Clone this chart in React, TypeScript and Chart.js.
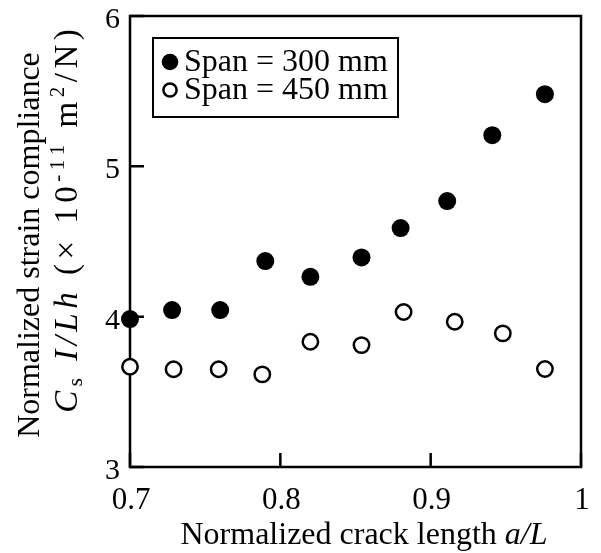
import React, { useEffect, useRef } from 'react';
import { Chart, registerables } from 'chart.js';

Chart.register(...registerables);

// ---- data ----
const seriesLabels = ['Span = 300 mm', 'Span = 450 mm'];
const crackLength300 = [0.7, 0.728, 0.76, 0.79, 0.82, 0.854, 0.88, 0.911, 0.941, 0.976];
const compliance300 = [3.984, 4.044, 4.044, 4.37, 4.265, 4.394, 4.589, 4.769, 5.207, 5.48];
const crackLength450 = [0.7, 0.729, 0.759, 0.788, 0.82, 0.854, 0.882, 0.916, 0.948, 0.976];
const compliance450 = [3.667, 3.65, 3.65, 3.616, 3.833, 3.811, 4.031, 3.966, 3.889, 3.652];
const xTicks = [0.7, 0.8, 0.9, 1];
const yTicks = [3, 4, 5, 6];

const FAMILY = "'Liberation Serif', 'Times New Roman', serif";
const roman = (s: number) => `${s}px ${FAMILY}`;
const italic = (s: number) => `italic ${s}px ${FAMILY}`;

type Seg = { t: string; f: string; dy?: number };

function segWidth(ctx: CanvasRenderingContext2D, s: Seg, spacing: number) {
  ctx.font = s.f;
  let w = 0;
  for (const ch of Array.from(s.t)) w += ctx.measureText(ch).width + spacing;
  return w;
}

function drawRich(
  ctx: CanvasRenderingContext2D,
  segs: Seg[],
  cx: number,
  baseY: number,
  spacing = 0
) {
  let total = 0;
  for (const s of segs) total += spacing ? segWidth(ctx, s, spacing) : (ctx.font = s.f, ctx.measureText(s.t).width);
  if (spacing) total -= spacing;
  let x = cx - total / 2;
  ctx.textAlign = 'left';
  ctx.textBaseline = 'alphabetic';
  for (const s of segs) {
    ctx.font = s.f;
    if (!spacing) {
      ctx.fillText(s.t, x, baseY + (s.dy || 0));
      x += ctx.measureText(s.t).width;
    } else {
      for (const ch of Array.from(s.t)) {
        ctx.fillText(ch, x, baseY + (s.dy || 0));
        x += ctx.measureText(ch).width + spacing;
      }
    }
  }
}

const xTitle: Seg[] = [
  { t: 'Normalized crack length ', f: roman(32) },
  { t: 'a/L', f: italic(32) },
];
const yTitle1: Seg[] = [{ t: 'Normalized strain compliance', f: roman(32) }];
const yTitle2: Seg[] = [
  { t: 'C', f: italic(33) },
  { t: 's', f: roman(21), dy: 5 },
  { t: ' ', f: roman(33) },
  { t: 'I/Lh', f: italic(33) },
  { t: ' (× 10', f: roman(33) },
  { t: '-11', f: roman(21), dy: -13 },
  { t: ' m', f: roman(33) },
  { t: '2', f: roman(21), dy: -13 },
  { t: '/N)', f: roman(33) },
];

const framePlugin = {
  id: 'frameTicks',
  beforeDatasetsDraw(chart: any) {
    const { ctx, chartArea, scales } = chart;
    const { left, right, top, bottom } = chartArea;
    ctx.save();
    ctx.strokeStyle = '#000';
    ctx.lineWidth = 2.5;
    ctx.strokeRect(left, top, right - left, bottom - top);
    ctx.beginPath();
    for (const v of xTicks) {
      const px = scales.x.getPixelForValue(v);
      ctx.moveTo(px, bottom);
      ctx.lineTo(px, bottom - 14);
    }
    for (const v of yTicks) {
      const py = scales.y.getPixelForValue(v);
      ctx.moveTo(left, py);
      ctx.lineTo(left + 14, py);
    }
    ctx.stroke();
    ctx.restore();
  },
};

const legendPlugin = {
  id: 'insideLegend',
  afterDatasetsDraw(chart: any) {
    const { ctx, chartArea } = chart;
    const bx = chartArea.left + 23;
    const by = chartArea.top + 22;
    const bw = 245;
    const bh = 79;
    ctx.save();
    ctx.fillStyle = '#fff';
    ctx.fillRect(bx, by, bw, bh);
    ctx.strokeStyle = '#000';
    ctx.lineWidth = 2;
    ctx.strokeRect(bx, by, bw, bh);
    chart.data.datasets.forEach((ds: any, i: number) => {
      const cy = by + 24 + i * 28;
      const mx = bx + 17;
      ctx.beginPath();
      ctx.arc(mx, cy, i === 0 ? 8.3 : 6.6, 0, Math.PI * 2);
      if (i === 0) {
        ctx.fillStyle = '#000';
        ctx.fill();
      } else {
        ctx.fillStyle = '#fff';
        ctx.fill();
        ctx.lineWidth = 2.5;
        ctx.strokeStyle = '#000';
        ctx.stroke();
      }
      ctx.fillStyle = '#000';
      ctx.font = roman(32);
      ctx.textAlign = 'left';
      ctx.textBaseline = 'middle';
      ctx.fillText(ds.label, bx + 31, cy + 1);
    });
    ctx.restore();
  },
};

const titlesPlugin = {
  id: 'richTitles',
  afterDraw(chart: any) {
    const { ctx } = chart;
    ctx.save();
    ctx.fillStyle = '#000';
    drawRich(ctx, xTitle, 364, 544);
    ctx.save();
    ctx.translate(39, 245);
    ctx.rotate(-Math.PI / 2);
    drawRich(ctx, yTitle1, 0, 0);
    ctx.restore();
    ctx.save();
    ctx.translate(77, 221);
    ctx.rotate(-Math.PI / 2);
    drawRich(ctx, yTitle2, 0, 0, 4.5);
    ctx.restore();
    ctx.restore();
  },
};

export default function App() {
  const ref = useRef<HTMLCanvasElement | null>(null);
  useEffect(() => {
    document.body.style.margin = '0';
    const zeroPad = (s: any) => {
      s.paddingLeft = 0;
      s.paddingRight = 0;
      s.paddingTop = 0;
      s.paddingBottom = 0;
    };
    const chart = new Chart(ref.current as HTMLCanvasElement, {
      type: 'scatter',
      data: {
        datasets: [
          {
            label: seriesLabels[0],
            data: crackLength300.map((x, i) => ({ x, y: compliance300[i] })),
            pointStyle: 'circle',
            pointRadius: 9,
            pointBackgroundColor: '#000',
            pointBorderColor: '#000',
            pointBorderWidth: 0,
            clip: false as any,
          },
          {
            label: seriesLabels[1],
            data: crackLength450.map((x, i) => ({ x, y: compliance450[i] })),
            pointStyle: 'circle',
            pointRadius: 7.7,
            pointBackgroundColor: '#fff',
            pointBorderColor: '#000',
            pointBorderWidth: 2.5,
            clip: false as any,
          },
        ],
      },
      options: {
        animation: false,
        responsive: true,
        maintainAspectRatio: false,
        layout: { padding: { left: 0, right: 20, top: 16, bottom: 0 } },
        plugins: { legend: { display: false }, tooltip: { enabled: false } },
        events: [],
        scales: {
          x: {
            type: 'linear',
            min: 0.7,
            max: 1,
            afterBuildTicks: (s: any) => {
              s.ticks = xTicks.map((v) => ({ value: v }));
            },
            afterFit: (s: any) => {
              s.height = 86;
              zeroPad(s);
            },
            grid: { display: false, drawTicks: false },
            border: { display: false },
            ticks: {
              color: '#000',
              font: { family: FAMILY, size: 31 },
              padding: 15,
              labelOffset: 1,
              maxRotation: 0,
              autoSkip: false,
              callback: (v: any) => String(v),
            },
          },
          y: {
            type: 'linear',
            min: 3,
            max: 6,
            afterBuildTicks: (s: any) => {
              s.ticks = yTicks.map((v) => ({ value: v }));
            },
            afterFit: (s: any) => {
              s.width = 130;
              zeroPad(s);
            },
            grid: { display: false, drawTicks: false },
            border: { display: false },
            ticks: {
              color: '#000',
              font: { family: FAMILY, size: 30 },
              padding: 10,
              labelOffset: 4,
              autoSkip: false,
              callback: (v: any) => String(v),
            },
          },
        },
      },
      plugins: [framePlugin, legendPlugin, titlesPlugin],
    });
    return () => chart.destroy();
  }, []);
  return (
    <div style={{ position: 'relative', width: 601, height: 553 }}>
      <canvas ref={ref} />
    </div>
  );
}
